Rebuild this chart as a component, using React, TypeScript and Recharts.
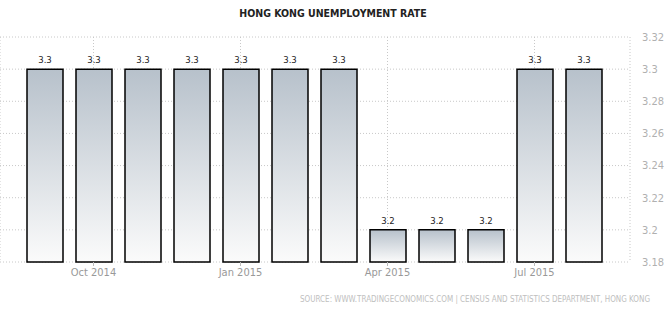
import React from 'react';
import { BarChart, Bar, XAxis, YAxis, CartesianGrid, LabelList } from 'recharts';

const months = [
  'Sep 2014', 'Oct 2014', 'Nov 2014', 'Dec 2014', 'Jan 2015', 'Feb 2015',
  'Mar 2015', 'Apr 2015', 'May 2015', 'Jun 2015', 'Jul 2015', 'Aug 2015',
];
const rates = [3.3, 3.3, 3.3, 3.3, 3.3, 3.3, 3.3, 3.2, 3.2, 3.2, 3.3, 3.3];
const xTicks = ['Oct 2014', 'Jan 2015', 'Apr 2015', 'Jul 2015'];
const yTicks = [3.18, 3.2, 3.22, 3.24, 3.26, 3.28, 3.3, 3.32];

const data = months.map((m, i) => ({ month: m, rate: rates[i] }));

const font = '"DejaVu Sans Condensed", "Liberation Sans Narrow", Arial, sans-serif';

export default function App() {
  return (
    <div style={{ position: 'absolute', left: 0, top: 0, width: 666, height: 311, background: '#fff', fontFamily: font }}>
      <div style={{ position: 'absolute', top: 7, left: 0, width: 666, textAlign: 'center', fontSize: 10.5, fontWeight: 'bold', color: '#222' }}>
        HONG KONG UNEMPLOYMENT RATE
      </div>
      <BarChart width={666} height={311} data={data} margin={{ top: 37, right: 0, left: 0, bottom: 0 }}>
        <defs>
          <linearGradient id="barFill" x1="0" y1="0" x2="0" y2="1">
            <stop offset="0%" stopColor="#b7c1cb" />
            <stop offset="100%" stopColor="#fbfbfb" />
          </linearGradient>
        </defs>
        <CartesianGrid stroke="#c8c8c8" strokeDasharray="1 2" />
        <XAxis
          dataKey="month"
          ticks={xTicks}
          interval={0}
          padding={{ left: 20, right: 22 }}
          axisLine={false}
          tickSize={4}
          tickLine={{ stroke: '#bbb' }}
          tick={{ fill: '#999', fontSize: 11, fontFamily: font }}
          height={49}
        />
        <YAxis
          orientation="right"
          domain={[3.18, 3.32]}
          ticks={yTicks}
          axisLine={false}
          tickLine={false}
          tickMargin={6}
          width={36}
          tick={{ fill: '#b0b0b0', fontSize: 11, fontFamily: font, textAnchor: 'start' }}
        />
        <Bar dataKey="rate" barSize={36} fill="url(#barFill)" stroke="#000" strokeWidth={1.5} isAnimationActive={false}>
          <LabelList dataKey="rate" position="top" offset={6} style={{ fill: '#222', fontSize: 9.5, fontFamily: font }} />
        </Bar>
      </BarChart>
      <div style={{ position: 'absolute', top: 295, right: 16, fontSize: 8, color: '#c0c0c0', whiteSpace: 'nowrap' }}>
        SOURCE: WWW.TRADINGECONOMICS.COM | CENSUS AND STATISTICS DEPARTMENT, HONG KONG
      </div>
    </div>
  );
}
